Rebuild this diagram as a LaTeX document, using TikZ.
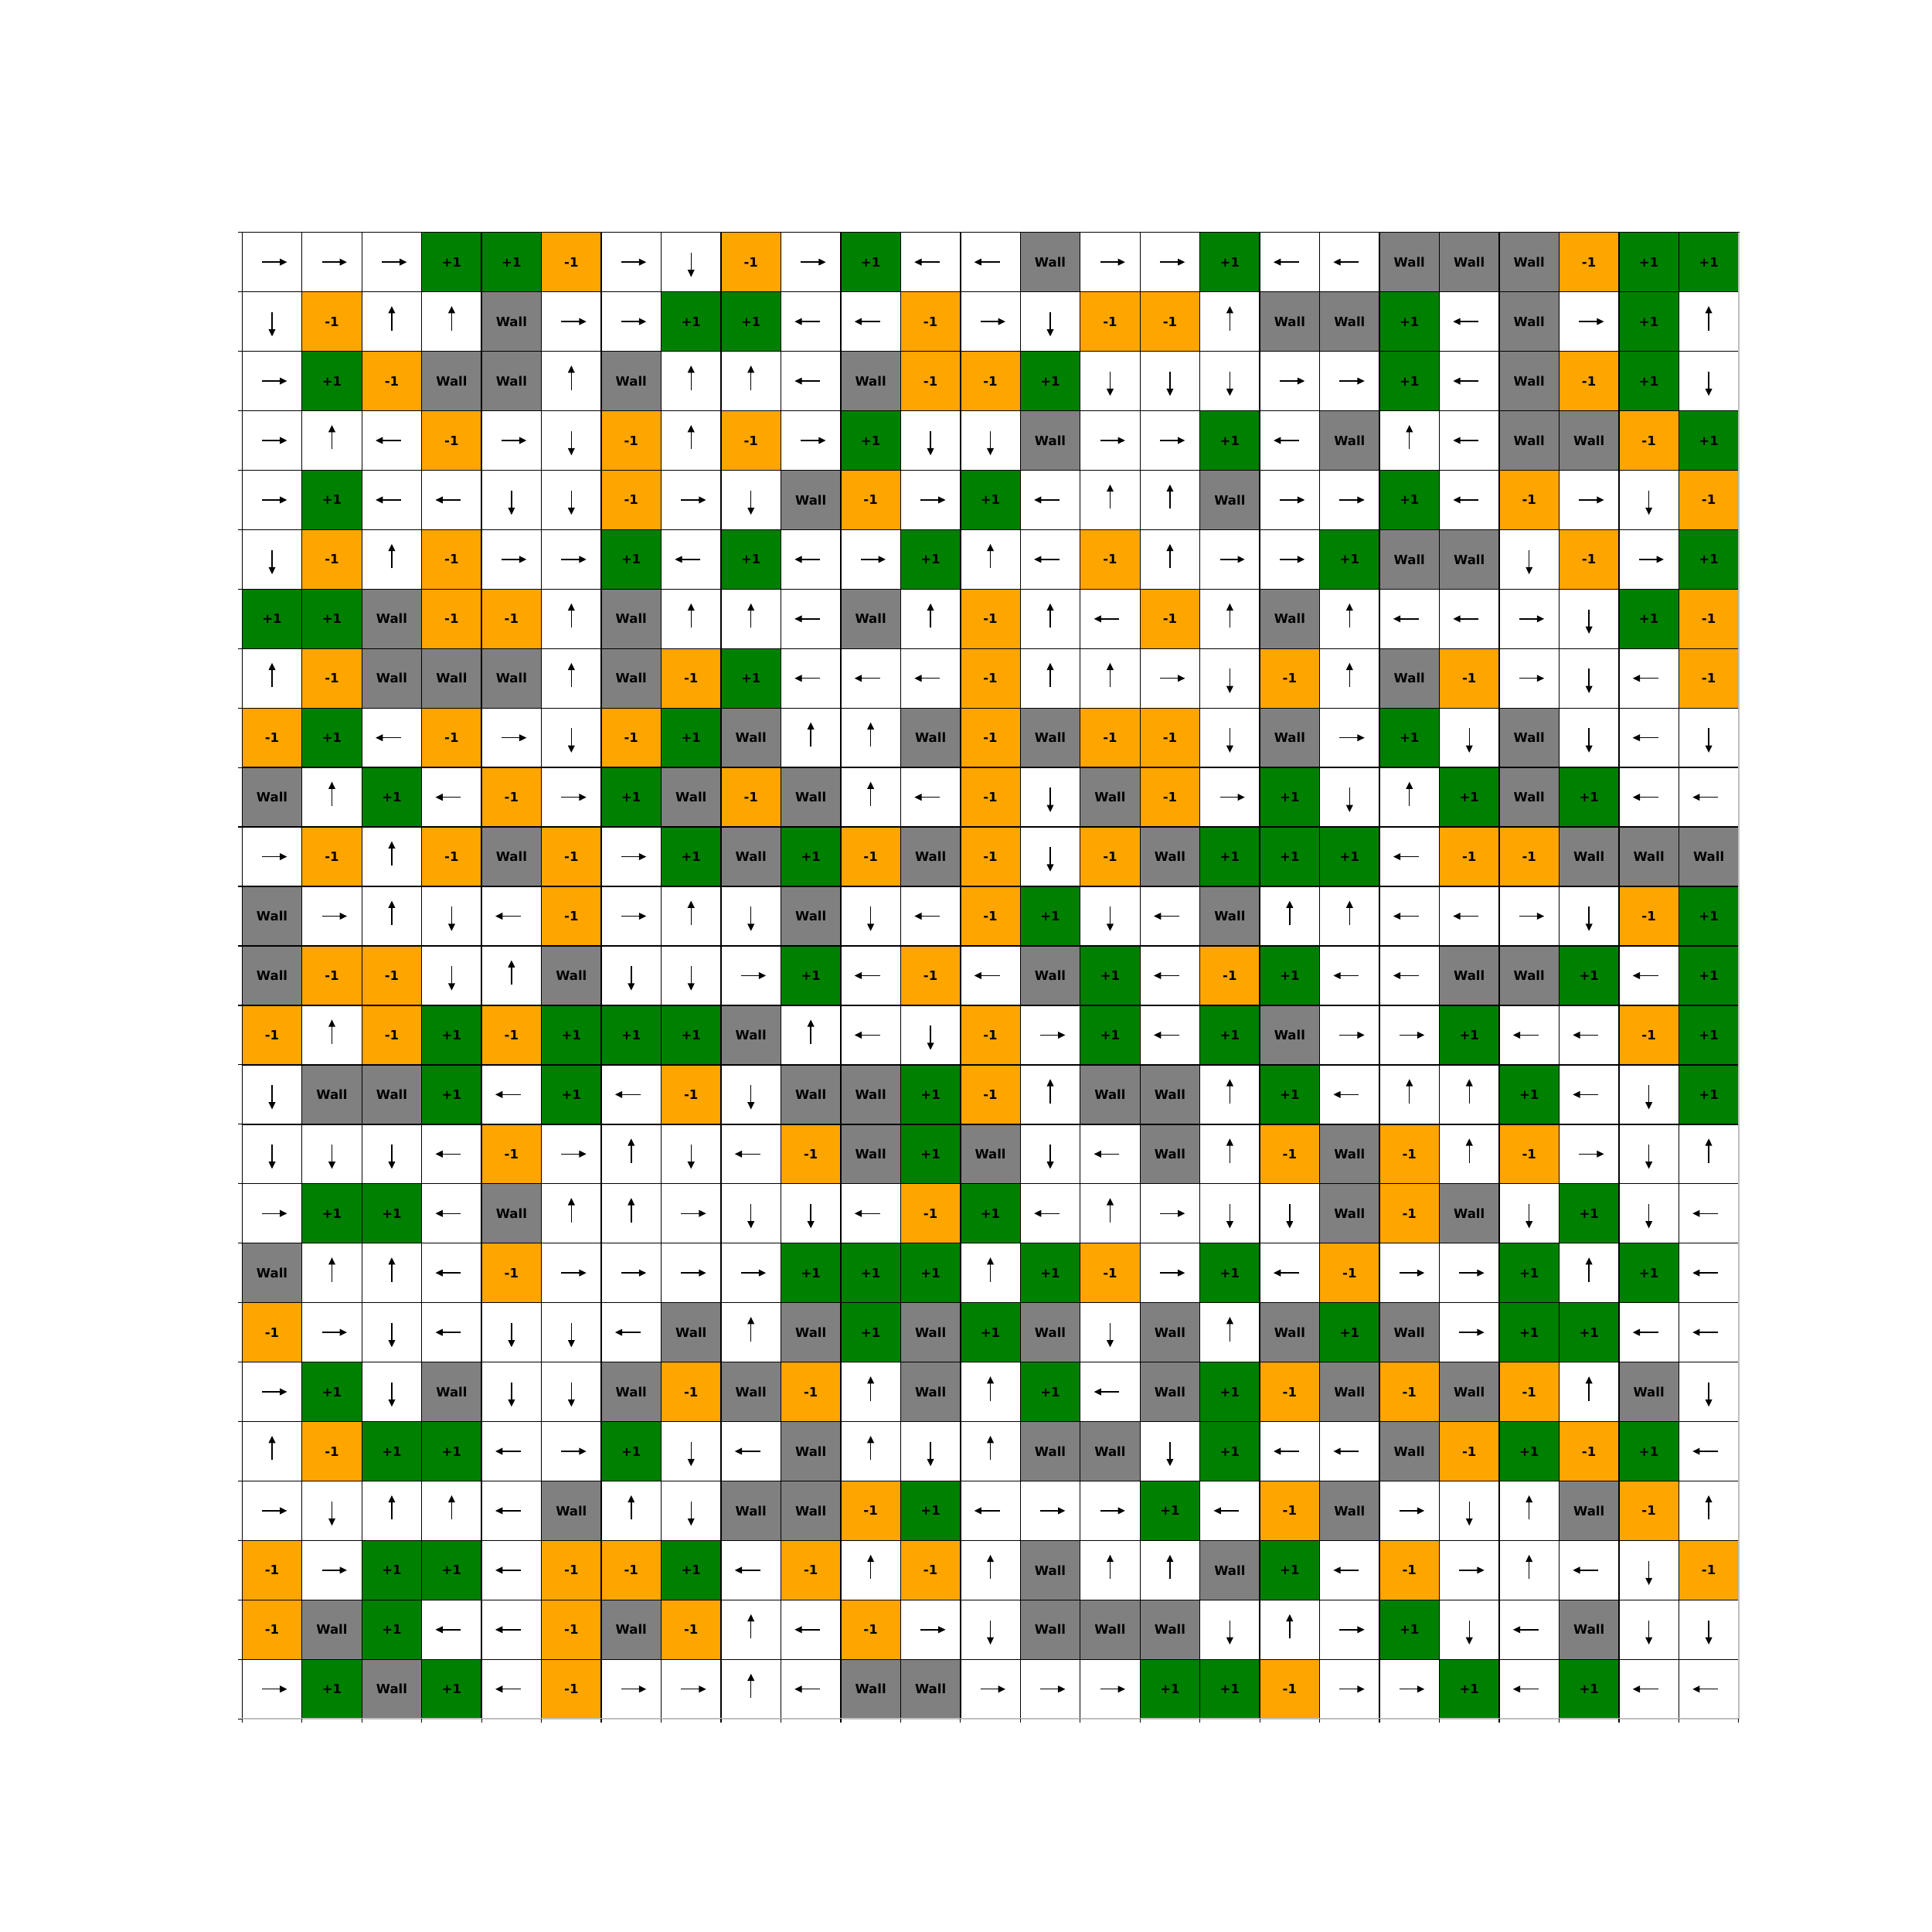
\documentclass[tikz,border=0pt]{standalone}
\usepackage{fontspec}
\setmainfont{DejaVu Sans}
\usepackage{tikz}
\usetikzlibrary{arrows.meta}
\definecolor{clrgreen}{RGB}{0,128,0}
\definecolor{clrorange}{RGB}{255,165,0}
\definecolor{clrwall}{RGB}{128,128,128}
\definecolor{clredge}{RGB}{191,191,191}

% cell texts by code letter
\def\txtP{+1}
\def\txtM{-1}
\def\txtW{Wall}

\begin{document}
\begin{tikzpicture}[
    font=\bfseries\fontsize{4.7}{5}\selectfont,
    cell/.style={draw=black, line width=0.4pt, fill=white,
                 minimum width=0.7746cm, minimum height=0.7694cm,
                 inner sep=0pt, outer sep=0pt},
    arr/.style={line width=0.4pt, -{Triangle[length=0.093cm,width=0.087cm]}},
    tick/.style={line width=0.35pt, black},
    sqP/.style={fill=clrgreen},
    sqM/.style={fill=clrorange},
    sqW/.style={fill=clrwall},
    sqR/.style={path picture={\draw[arr] ([xshift=-1.29mm]path picture bounding box.center)
                                      -- ([xshift=1.94mm]path picture bounding box.center);}},
    sqL/.style={path picture={\draw[arr] ([xshift=1.20mm]path picture bounding box.center)
                                      -- ([xshift=-2.09mm]path picture bounding box.center);}},
    sqU/.style={path picture={\draw[arr] ([yshift=-1.15mm]path picture bounding box.center)
                                      -- ([yshift=2.00mm]path picture bounding box.center);}},
    sqD/.style={path picture={\draw[arr] ([yshift=1.23mm]path picture bounding box.center)
                                      -- ([yshift=-1.92mm]path picture bounding box.center);}},
  ]
  \fill[white] (0,0) rectangle (25,-25);
  \useasboundingbox (0,0) rectangle (25,-25);

  \begin{scope}[shift={(3.133,-3.007)}, x=0.7746cm, y=-0.7694cm]
    % grid world: P = +1, M = -1, W = wall, R/L/U/D = policy arrow
    \foreach \rowvals [count=\i from 0] in {
      {R,R,R,P,P,M,R,D,M,R,P,L,L,W,R,R,P,L,L,W,W,W,M,P,P},
      {D,M,U,U,W,R,R,P,P,L,L,M,R,D,M,M,U,W,W,P,L,W,R,P,U},
      {R,P,M,W,W,U,W,U,U,L,W,M,M,P,D,D,D,R,R,P,L,W,M,P,D},
      {R,U,L,M,R,D,M,U,M,R,P,D,D,W,R,R,P,L,W,U,L,W,W,M,P},
      {R,P,L,L,D,D,M,R,D,W,M,R,P,L,U,U,W,R,R,P,L,M,R,D,M},
      {D,M,U,M,R,R,P,L,P,L,R,P,U,L,M,U,R,R,P,W,W,D,M,R,P},
      {P,P,W,M,M,U,W,U,U,L,W,U,M,U,L,M,U,W,U,L,L,R,D,P,M},
      {U,M,W,W,W,U,W,M,P,L,L,L,M,U,U,R,D,M,U,W,M,R,D,L,M},
      {M,P,L,M,R,D,M,P,W,U,U,W,M,W,M,M,D,W,R,P,D,W,D,L,D},
      {W,U,P,L,M,R,P,W,M,W,U,L,M,D,W,M,R,P,D,U,P,W,P,L,L},
      {R,M,U,M,W,M,R,P,W,P,M,W,M,D,M,W,P,P,P,L,M,M,W,W,W},
      {W,R,U,D,L,M,R,U,D,W,D,L,M,P,D,L,W,U,U,L,L,R,D,M,P},
      {W,M,M,D,U,W,D,D,R,P,L,M,L,W,P,L,M,P,L,L,W,W,P,L,P},
      {M,U,M,P,M,P,P,P,W,U,L,D,M,R,P,L,P,W,R,R,P,L,L,M,P},
      {D,W,W,P,L,P,L,M,D,W,W,P,M,U,W,W,U,P,L,U,U,P,L,D,P},
      {D,D,D,L,M,R,U,D,L,M,W,P,W,D,L,W,U,M,W,M,U,M,R,D,U},
      {R,P,P,L,W,U,U,R,D,D,L,M,P,L,U,R,D,D,W,M,W,D,P,D,L},
      {W,U,U,L,M,R,R,R,R,P,P,P,U,P,M,R,P,L,M,R,R,P,U,P,L},
      {M,R,D,L,D,D,L,W,U,W,P,W,P,W,D,W,U,W,P,W,R,P,P,L,L},
      {R,P,D,W,D,D,W,M,W,M,U,W,U,P,L,W,P,M,W,M,W,M,U,W,D},
      {U,M,P,P,L,R,P,D,L,W,U,D,U,W,W,D,P,L,L,W,M,P,M,P,L},
      {R,D,U,U,L,W,U,D,W,W,M,P,L,R,R,P,L,M,W,R,D,U,W,M,U},
      {M,R,P,P,L,M,M,P,L,M,U,M,U,W,U,U,W,P,L,M,R,U,L,D,M},
      {M,W,P,L,L,M,W,M,U,L,M,R,D,W,W,W,D,U,R,P,D,L,W,D,D},
      {R,P,W,P,L,M,R,R,U,L,W,W,R,R,R,P,P,M,R,R,P,L,P,L,L}}
    {
      \foreach \v [count=\j from 0] in \rowvals {
        \node[cell, sq\v] (c\i-\j) at (\j+0.5,\i+0.5) {\csname txt\v\endcsname};
      }
    }

    % light outer edge on right and bottom
    \draw[clredge, line width=0.5pt] (c0-24.north east) -- (c24-24.south east)
                                     -- (c24-0.south west);

    % axis ticks
    \foreach \k in {0,...,25} {
      \draw[tick] (0,\k) -- ++(-0.05cm,0);
      \draw[tick] (\k,25) -- ++(0,-0.05cm);
    }
  \end{scope}
\end{tikzpicture}
\end{document}
